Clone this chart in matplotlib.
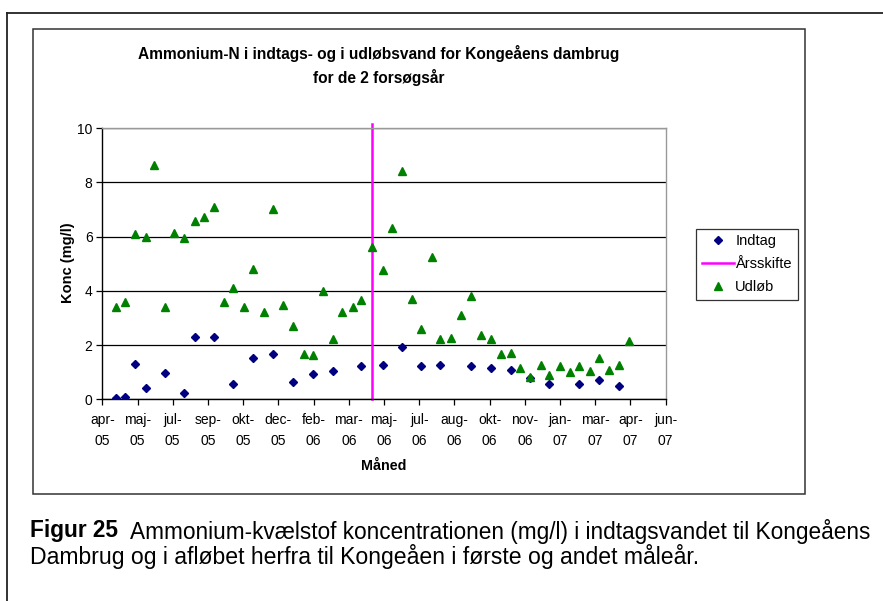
import matplotlib
matplotlib.use("Agg")
import matplotlib.pyplot as plt
from matplotlib.patches import Rectangle
from matplotlib.lines import Line2D
import pandas as pd

plt.rcParams['font.family'] = ['Liberation Sans', 'DejaVu Sans']

# ---------------- data ----------------
indtag_dates = ["2005-04-27", "2005-05-10", "2005-05-25", "2005-06-09", "2005-07-06",
                "2005-08-02", "2005-08-18", "2005-09-14", "2005-10-11", "2005-11-08",
                "2005-12-07", "2006-01-04", "2006-02-01", "2006-03-02", "2006-04-11",
                "2006-05-11", "2006-06-08", "2006-07-05", "2006-08-01", "2006-09-14",
                "2006-10-12", "2006-11-09", "2006-12-06", "2007-01-03", "2007-02-14",
                "2007-03-14", "2007-04-12"]
indtag_values = [0.04, 0.07, 1.30, 0.41, 0.96, 0.22, 2.31, 2.31, 0.57, 1.51,
                 1.67, 0.65, 0.95, 1.04, 1.21, 1.25, 1.93, 1.21, 1.25, 1.21,
                 1.17, 1.09, 0.78, 0.57, 0.57, 0.72, 0.49]

udloeb_dates = ["2005-04-27", "2005-05-10", "2005-05-25", "2005-06-09", "2005-06-21",
                "2005-07-06", "2005-07-19", "2005-08-02", "2005-08-18", "2005-08-30",
                "2005-09-14", "2005-09-28", "2005-10-11", "2005-10-26", "2005-11-08",
                "2005-11-23", "2005-12-07", "2005-12-21", "2006-01-04", "2006-01-19",
                "2006-02-01", "2006-02-16", "2006-03-02", "2006-03-15", "2006-03-30",
                "2006-04-11", "2006-04-26", "2006-05-11", "2006-05-24", "2006-06-08",
                "2006-06-22", "2006-07-05", "2006-07-20", "2006-08-01", "2006-08-16",
                "2006-08-31", "2006-09-14", "2006-09-28", "2006-10-12", "2006-10-26",
                "2006-11-09", "2006-11-22", "2006-12-06", "2006-12-22", "2007-01-03",
                "2007-01-18", "2007-02-01", "2007-02-14", "2007-03-01", "2007-03-14",
                "2007-03-29", "2007-04-12", "2007-04-26"]
udloeb_values = [3.40, 3.58, 6.11, 6.00, 8.62, 3.40, 6.12, 5.93, 6.59, 6.73,
                 7.10, 3.58, 4.09, 3.41, 4.80, 3.21, 7.02, 3.49, 2.69, 1.67,
                 1.63, 4.00, 2.23, 3.21, 3.41, 3.67, 5.60, 4.77, 6.30, 8.42,
                 3.70, 2.60, 5.25, 2.23, 2.27, 3.11, 3.79, 2.36, 2.23, 1.68,
                 1.70, 1.14, 0.83, 1.25, 0.90, 1.21, 0.99, 1.21, 1.04, 1.54,
                 1.09, 1.25, 2.14]

aarsskifte_dates = ["2006-04-26", "2006-04-26"]
aarsskifte_values = [0, 10.15]

tick_labels = ["apr-\n05", "maj-\n05", "jul-\n05", "sep-\n05", "okt-\n05", "dec-\n05",
               "feb-\n06", "mar-\n06", "maj-\n06", "jul-\n06", "aug-\n06", "okt-\n06",
               "nov-\n06", "jan-\n07", "mar-\n07", "apr-\n07", "jun-\n07"]
axis_start = "2005-04-08"
tick_step_days = 50

title = "Ammonium-N i indtags- og i udløbsvand for Kongeåens dambrug\nfor de 2 forsøgsår"
xlabel = "Måned"
ylabel = "Konc (mg/l)"
caption_bold = "Figur 25"
caption_line1 = "Ammonium-kvælstof koncentrationen (mg/l) i indtagsvandet til Kongeåens"
caption_line2 = "Dambrug og i afløbet herfra til Kongeåen i første og andet måleår."

# ---------------- figure ----------------
W, H = 883, 601
fig = plt.figure(figsize=(W / 100, H / 100), dpi=100)

def fx(x):
    return x / W

def fy(y):
    return 1 - y / H

# outer frame (left + top visible)
fig.add_artist(Line2D([fx(7), fx(7)], [fy(13), 0], transform=fig.transFigure,
                      color='#222222', lw=1.3))
fig.add_artist(Line2D([fx(7), 1], [fy(13), fy(13)], transform=fig.transFigure,
                      color='#222222', lw=1.3))
# chart area frame
fig.add_artist(Rectangle((fx(33), fy(494)), fx(805) - fx(33), fy(29.5) - fy(494),
                         transform=fig.transFigure, fill=False,
                         edgecolor='#333333', lw=1.1))

ax = fig.add_axes([fx(102.3), fy(399.3), fx(665.7) - fx(102.3), fy(128) - fy(399.3)])

d_ind = pd.to_datetime(indtag_dates)
d_udl = pd.to_datetime(udloeb_dates)
d_aar = pd.to_datetime(aarsskifte_dates)

l_ind, = ax.plot(d_ind, indtag_values, linestyle='none', marker='D', markersize=4.0,
                 color='#000080', label='Indtag', zorder=3)
l_aar, = ax.plot(d_aar, aarsskifte_values, color='#FF00FF', lw=1.8, label='Årsskifte',
                 clip_on=False, zorder=2)
l_udl, = ax.plot(d_udl, udloeb_values, linestyle='none', marker='^', markersize=6.3,
                 color='#008000', label='Udløb', zorder=3)

start = pd.Timestamp(axis_start)
ticks = [start + pd.Timedelta(days=tick_step_days * k) for k in range(len(tick_labels))]
ax.set_xlim(ticks[0], ticks[-1])
ax.set_xticks(ticks)
ax.set_xticklabels(tick_labels, fontsize=10, linespacing=1.65)
ax.set_ylim(0, 10)
ax.set_yticks([0, 2, 4, 6, 8, 10])
ax.set_yticklabels(['0', '2', '4', '6', '8', '10'], fontsize=10)

ax.yaxis.grid(True, color='black', lw=0.9)
ax.set_axisbelow(True)
for s in ['top', 'right']:
    ax.spines[s].set_color('#999999')
    ax.spines[s].set_linewidth(1.0)
for s in ['left', 'bottom']:
    ax.spines[s].set_color('black')
    ax.spines[s].set_linewidth(1.0)
ax.tick_params(axis='both', direction='out', length=4, width=0.9, color='black', pad=3)
ax.tick_params(axis='x', pad=6)

# titles and labels
fig.text(fx(379), fy(66), title, ha='center', va='center', fontsize=11.2,
         fontweight='bold', linespacing=1.5)
fig.text(fx(384), fy(466), xlabel, ha='center', va='center', fontsize=10.3,
         fontweight='bold')
fig.text(fx(68), fy(263), ylabel, ha='center', va='center', fontsize=10.5,
         fontweight='bold', rotation=90)

# legend
leg = fig.legend(handles=[l_ind, l_aar, l_udl], loc='upper left',
                 bbox_to_anchor=(fx(696), fy(228.5)), bbox_transform=fig.transFigure,
                 fontsize=10.5, frameon=True, fancybox=False, borderpad=0.4,
                 labelspacing=0.6, handlelength=2.2, handletextpad=0.1,
                 borderaxespad=0)
leg.get_frame().set_edgecolor('black')
leg.get_frame().set_linewidth(0.9)

# caption
fig.text(fx(30), fy(531), caption_bold, ha='left', va='center', fontsize=16.3,
         fontweight='bold')
fig.text(fx(130), fy(531), caption_line1, ha='left', va='center', fontsize=16.3)
fig.text(fx(30), fy(556.5), caption_line2, ha='left', va='center', fontsize=16.6)

fig.savefig("out.png", dpi=100)
